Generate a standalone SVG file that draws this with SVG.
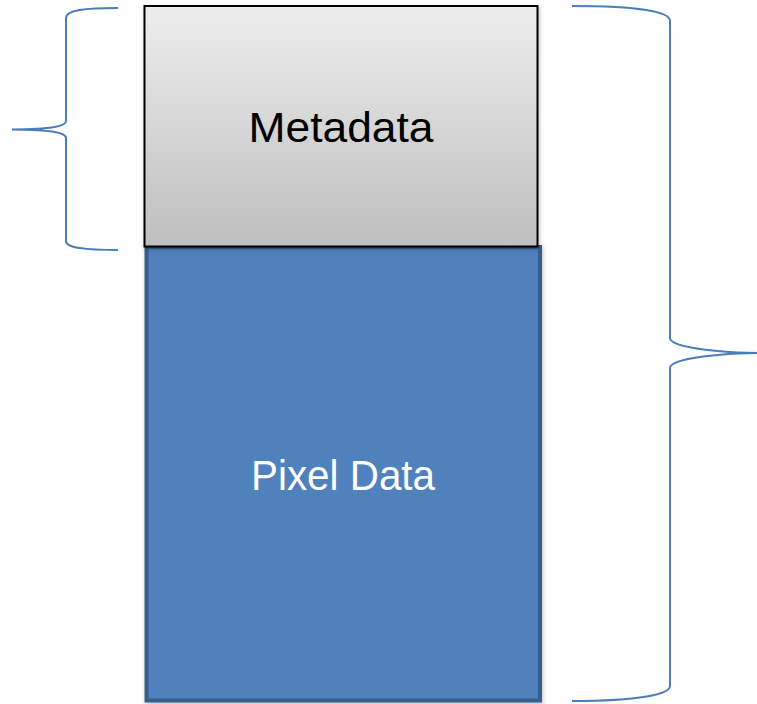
<svg xmlns="http://www.w3.org/2000/svg" width="757" height="704" viewBox="0 0 757 704">
  <defs>
    <linearGradient id="gray" x1="0" y1="0" x2="0" y2="1">
      <stop offset="0" stop-color="#ededed"/>
      <stop offset="1" stop-color="#bfbfbf"/>
    </linearGradient>
    <filter id="shadow" x="-5%" y="-5%" width="110%" height="110%">
      <feDropShadow dx="1" dy="2" stdDeviation="2" flood-color="#000" flood-opacity="0.25"/>
    </filter>
  </defs>
  <style>
    .brace { fill: none; stroke: #4a7ebb; stroke-width: 2; }
    .label { font-family: "Liberation Sans", Arial, sans-serif; font-size: 42px; text-anchor: middle; }
  </style>
  <rect width="757" height="704" fill="#ffffff"/>
  <g id="pixel-data">
    <rect x="146.5" y="247" width="393.5" height="453.5" fill="#4f81bd" stroke="#385d8a" stroke-width="4" filter="url(#shadow)"/>
    <text class="label" x="343" y="490" fill="#ffffff" textLength="184" lengthAdjust="spacingAndGlyphs">Pixel Data</text>
  </g>
  <g id="metadata">
    <rect x="144.5" y="6" width="393" height="240.5" fill="url(#gray)" stroke="#000000" stroke-width="2" filter="url(#shadow)"/>
    <text class="label" x="341" y="142" fill="#000000" textLength="185" lengthAdjust="spacingAndGlyphs">Metadata</text>
  </g>
  <g id="connectors">
    <path class="brace" d="M118,8 C85,8 66,10 66,18 L66,121 C66,127 50,129 12,129.5 C50,130 66,132 66,138 L66,241 C66,248 85,250 118,250"/>
    <path class="brace" d="M572,6 C640,6 670,12 670,21 L670,338 C670,345 700,352 757,353 C700,354 670,361 670,368 L670,686 C670,694 640,701 572,701"/>
  </g>
</svg>
